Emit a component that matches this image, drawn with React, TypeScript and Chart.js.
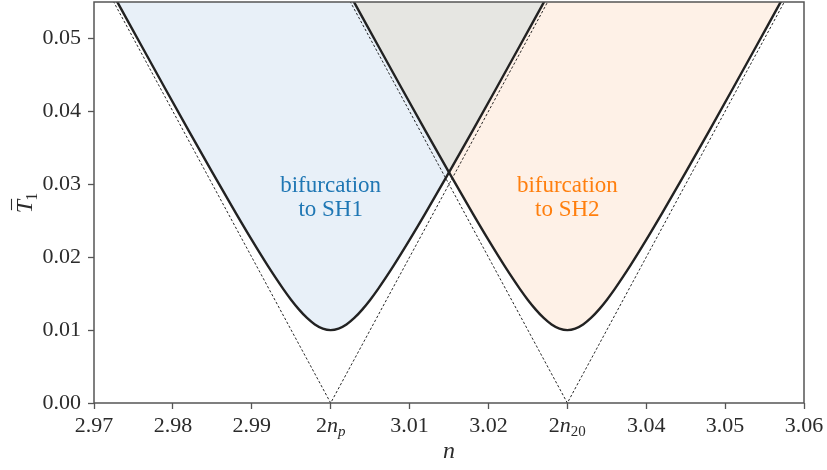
import React, { useEffect, useRef } from "react";
import { Chart, registerables } from "chart.js";

Chart.register(...registerables);

// ---- data ----
const X_TICKS = [2.97, 2.98, 2.99, 3.0, 3.01, 3.02, 3.03, 3.04, 3.05, 3.06];
const X_TICK_LABELS = ["2.97", "2.98", "2.99", "2n_p", "3.01", "3.02", "2n_20", "3.04", "3.05", "3.06"];
const Y_TICKS = [0, 0.01, 0.02, 0.03, 0.04, 0.05];

// boundary of the region bifurcating to SH1 (minimum at 2n_p)
const SH1_N = [
  2.9728, 2.973, 2.976, 2.979, 2.982, 2.985, 2.988, 2.99, 2.992, 2.994, 2.995, 2.996, 2.997, 2.998, 2.999,
  3.0, 3.001, 3.002, 3.003, 3.004, 3.005, 3.006, 3.008, 3.01, 3.012, 3.015, 3.018, 3.021, 3.024, 3.027, 3.0272,
];
const SH1_T = [
  0.05531, 0.05492, 0.04903, 0.04317, 0.03736, 0.03162, 0.026, 0.02236, 0.01887, 0.01562, 0.01414, 0.01281,
  0.01166, 0.01077, 0.0102, 0.01, 0.0102, 0.01077, 0.01166, 0.01281, 0.01414, 0.01562, 0.01887, 0.02236,
  0.026, 0.03162, 0.03736, 0.04317, 0.04903, 0.05492, 0.05531,
];

// boundary of the region bifurcating to SH2 (minimum at 2n_20)
const SH2_N = [
  3.0028, 3.003, 3.006, 3.009, 3.012, 3.015, 3.018, 3.02, 3.022, 3.024, 3.025, 3.026, 3.027, 3.028, 3.029,
  3.03, 3.031, 3.032, 3.033, 3.034, 3.035, 3.036, 3.038, 3.04, 3.042, 3.045, 3.048, 3.051, 3.054, 3.057, 3.0572,
];
const SH2_T = [
  0.05531, 0.05492, 0.04903, 0.04317, 0.03736, 0.03162, 0.026, 0.02236, 0.01887, 0.01562, 0.01414, 0.01281,
  0.01166, 0.01077, 0.0102, 0.01, 0.0102, 0.01077, 0.01166, 0.01281, 0.01414, 0.01562, 0.01887, 0.02236,
  0.026, 0.03162, 0.03736, 0.04317, 0.04903, 0.05492, 0.05531,
];

// dashed asymptotes
const ASYM1_N = [2.97, 3.0, 3.03];
const ASYM1_T = [0.06, 0.0, 0.06];
const ASYM2_N = [3.0, 3.03, 3.06];
const ASYM2_T = [0.06, 0.0, 0.06];

// region labels
const LABEL_SH1_LINES = ["bifurcation", "to SH1"];
const LABEL_SH1_POS = [3.0, 0.0281];
const LABEL_SH2_LINES = ["bifurcation", "to SH2"];
const LABEL_SH2_POS = [3.03, 0.0281];

// ---- styles ----
const FONT = "'Liberation Serif', 'Times New Roman', serif";
const SPINE = "#555555";
const TEXT = "#2b2b2b";
const BLUE = "#1f77b4";
const ORANGE = "#ff7f0e";
const BLUE_FILL = "#e8f0f8";
const ORANGE_FILL = "#fef1e7";
const GRAY_FILL = "#e6e6e2";
const CURVE = "#222222";

const pts = (ns: number[], ts: number[]) => ns.map((n, i) => ({ x: n, y: ts[i] }));

export default function App() {
  const ref = useRef<HTMLCanvasElement | null>(null);

  useEffect(() => {
    const canvas = ref.current;
    if (!canvas) return;

    const sh1 = pts(SH1_N, SH1_T);
    const sh2 = pts(SH2_N, SH2_T);
    // upper envelope over the overlap (region inside both boundaries)
    const overlap = [
      ...sh2.filter((p) => p.x <= 3.015),
      ...sh1.filter((p) => p.x > 3.015),
    ];

    const decor = {
      id: "decor",
      afterDatasetsDraw(chart: any) {
        const { ctx, scales } = chart;
        const x = scales.x;
        const y = scales.y;
        ctx.save();
        ctx.font = `23px ${FONT}`;
        ctx.textAlign = "center";
        ctx.textBaseline = "middle";
        const drawLabel = (lines: string[], pos: number[], color: string) => {
          const px = x.getPixelForValue(pos[0]);
          const py = y.getPixelForValue(pos[1]);
          ctx.fillStyle = color;
          ctx.fillText(lines[0], px, py - 12);
          ctx.fillText(lines[1], px, py + 12);
        };
        drawLabel(LABEL_SH1_LINES, LABEL_SH1_POS, BLUE);
        drawLabel(LABEL_SH2_LINES, LABEL_SH2_POS, ORANGE);
        ctx.restore();
      },
      afterDraw(chart: any) {
        const { ctx, chartArea, scales } = chart;
        const { left, right, top, bottom } = chartArea;
        const x = scales.x;
        ctx.save();
        // box
        ctx.strokeStyle = SPINE;
        ctx.lineWidth = 1.5;
        ctx.strokeRect(left, top, right - left, bottom - top);

        // x tick labels
        ctx.fillStyle = TEXT;
        ctx.textBaseline = "alphabetic";
        const base = bottom + 29;
        X_TICKS.forEach((v, i) => {
          const label = X_TICK_LABELS[i];
          const px = x.getPixelForValue(v);
          if (label.indexOf("_") < 0) {
            ctx.font = `22px ${FONT}`;
            ctx.textAlign = "center";
            ctx.fillText(label, px, base);
            return;
          }
          const [main, sub] = label.split("_");
          const num = main.slice(0, 1);
          const sym = main.slice(1);
          const subItalic = /[a-z]/i.test(sub);
          ctx.textAlign = "left";
          ctx.font = `22px ${FONT}`;
          const w1 = ctx.measureText(num).width;
          ctx.font = `italic 22px ${FONT}`;
          const w2 = ctx.measureText(sym).width;
          ctx.font = `${subItalic ? "italic " : ""}15px ${FONT}`;
          const w3 = ctx.measureText(sub).width;
          let cx = px - (w1 + w2 + w3) / 2;
          ctx.font = `22px ${FONT}`;
          ctx.fillText(num, cx, base);
          cx += w1;
          ctx.font = `italic 22px ${FONT}`;
          ctx.fillText(sym, cx, base);
          cx += w2;
          ctx.font = `${subItalic ? "italic " : ""}15px ${FONT}`;
          ctx.fillText(sub, cx, base + 4);
        });

        // x axis title
        ctx.font = `italic 24px ${FONT}`;
        ctx.textAlign = "center";
        ctx.fillText("n", (left + right) / 2, bottom + 55);

        // y axis title: T-bar with subscript 1, rotated
        const cy = (top + bottom) / 2;
        ctx.translate(32, cy);
        ctx.rotate(-Math.PI / 2);
        ctx.textAlign = "left";
        ctx.font = `italic 24px ${FONT}`;
        const wT = ctx.measureText("T").width;
        ctx.font = `16px ${FONT}`;
        const w1 = ctx.measureText("1").width;
        const total = wT + w1;
        const sx = -total / 2;
        ctx.font = `italic 24px ${FONT}`;
        ctx.fillText("T", sx, 0);
        ctx.strokeStyle = TEXT;
        ctx.lineWidth = 1.1;
        ctx.beginPath();
        ctx.moveTo(sx + 3, -20.5);
        ctx.lineTo(sx + wT + 1, -20.5);
        ctx.stroke();
        ctx.font = `16px ${FONT}`;
        ctx.fillText("1", sx + wT - 1, 5);
        ctx.restore();
      },
    };

    const zeroPad = (scale: any) => {
      scale.paddingTop = 0;
      scale.paddingBottom = 0;
      scale.paddingLeft = 0;
      scale.paddingRight = 0;
    };

    const chart = new Chart(canvas, {
      type: "line",
      data: {
        datasets: [
          {
            data: overlap,
            borderWidth: 0,
            borderColor: "rgba(0,0,0,0)",
            backgroundColor: GRAY_FILL,
            fill: "end",
            pointRadius: 0,
            tension: 0,
          },
          {
            data: sh1,
            borderColor: CURVE,
            borderWidth: 2.4,
            backgroundColor: BLUE_FILL,
            fill: "end",
            pointRadius: 0,
            cubicInterpolationMode: "monotone",
          },
          {
            data: sh2,
            borderColor: CURVE,
            borderWidth: 2.4,
            backgroundColor: ORANGE_FILL,
            fill: "end",
            pointRadius: 0,
            cubicInterpolationMode: "monotone",
          },
          {
            data: pts(ASYM1_N, ASYM1_T),
            borderColor: "#111111",
            borderWidth: 0.9,
            borderDash: [2.5, 2],
            fill: false,
            pointRadius: 0,
            tension: 0,
          },
          {
            data: pts(ASYM2_N, ASYM2_T),
            borderColor: "#111111",
            borderWidth: 0.9,
            borderDash: [2.5, 2],
            fill: false,
            pointRadius: 0,
            tension: 0,
          },
        ],
      } as any,
      options: {
        animation: false,
        responsive: false,
        events: [],
        layout: { padding: { left: 0, top: 2, right: 23, bottom: 0 } },
        plugins: {
          legend: { display: false },
          tooltip: { enabled: false },
          filler: { drawTime: "beforeDatasetsDraw" },
        } as any,
        scales: {
          x: {
            type: "linear",
            min: 2.97,
            max: 3.06,
            border: { display: false },
            grid: {
              display: true,
              drawOnChartArea: false,
              drawTicks: true,
              tickLength: 6,
              tickColor: SPINE,
              tickWidth: 1.3,
            },
            ticks: { display: false },
            afterBuildTicks: (scale: any) => {
              scale.ticks = X_TICKS.map((value) => ({ value }));
            },
            afterFit: (scale: any) => {
              scale.height = 67;
              zeroPad(scale);
            },
          },
          y: {
            type: "linear",
            min: 0,
            max: 0.055,
            border: { display: false },
            grid: {
              display: true,
              drawOnChartArea: false,
              drawTicks: true,
              tickLength: 6,
              tickColor: SPINE,
              tickWidth: 1.3,
            },
            ticks: {
              color: TEXT,
              padding: 7,
              font: { family: FONT, size: 22 },
              callback: (v: any) => Number(v).toFixed(2),
            },
            afterBuildTicks: (scale: any) => {
              scale.ticks = Y_TICKS.map((value) => ({ value }));
            },
            afterFit: (scale: any) => {
              scale.width = 94;
              zeroPad(scale);
            },
          },
        },
      } as any,
      plugins: [decor],
    });

    return () => chart.destroy();
  }, []);

  return (
    <div style={{ position: "fixed", left: 0, top: 0, width: 827, height: 470, background: "#ffffff" }}>
      <canvas ref={ref} width={827} height={470} style={{ display: "block", width: 827, height: 470 }} />
    </div>
  );
}
